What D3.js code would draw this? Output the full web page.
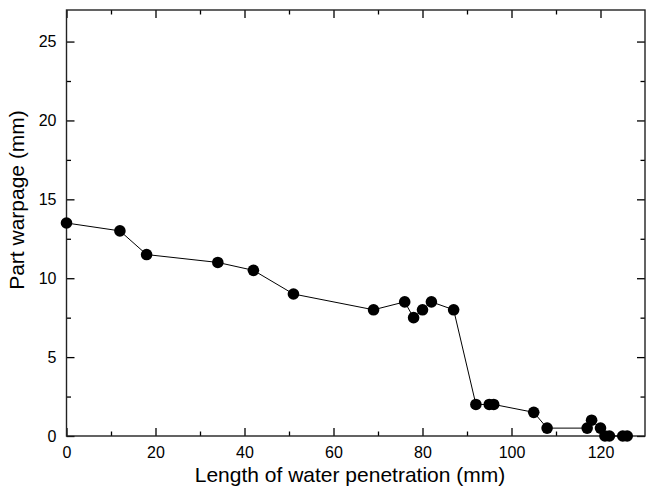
<!DOCTYPE html>
<html>
<head>
<meta charset="utf-8">
<script src="https://cdn.jsdelivr.net/npm/d3@7"></script>
<style>
  html, body { margin: 0; padding: 0; background: #fff; }
  svg { display: block; }
  text { font-family: "Liberation Sans", Arial, Helvetica, sans-serif; fill: #000; }
</style>
</head>
<body>
<svg id="chart" width="646" height="493"></svg>
<script>
// Data
const penetration = [0, 12, 18, 34, 42, 51, 69, 76, 78, 80, 82, 87, 92, 95, 96, 105, 108, 117, 118, 120, 121, 122, 125, 126];
const warpage     = [13.5, 13, 11.5, 11, 10.5, 9, 8, 8.5, 7.5, 8, 8.5, 8, 2, 2, 2, 1.5, 0.5, 0.5, 1, 0.5, 0, 0, 0, 0];
const xTicks = [0, 20, 40, 60, 80, 100, 120];
const xMinorTicks = [10, 30, 50, 70, 90, 110];
const yTicks = [0, 5, 10, 15, 20, 25];
const yMinorTicks = [2.5, 7.5, 12.5, 17.5, 22.5];
const xLabel = "Length of water penetration (mm)";
const yLabel = "Part warpage (mm)";

const W = 646, H = 493;
const m = { left: 66.5, right: 1, top: 10, bottom: 57 };
const svg = d3.select("#chart");
const iw = W - m.left - m.right, ih = H - m.top - m.bottom;

const x = d3.scaleLinear().domain([0, 130]).range([m.left, m.left + iw]);
const y = d3.scaleLinear().domain([0, 27]).range([m.top + ih, m.top]);

const tickFont = 16;
const majorLen = 8, minorLen = 4.5;
const tickStyle = sel => sel.selectAll(".tick line").attr("stroke", "#000").attr("stroke-width", 1.3);

function addTicks(axisFn, pos, vals, len, labels, padding) {
  const ax = axisFn.tickValues(vals).tickSizeInner(-len).tickSizeOuter(0);
  if (labels) ax.tickPadding(padding).tickFormat(d3.format("d")); else ax.tickFormat("");
  const g = svg.append("g").attr("transform", pos).call(ax);
  g.select(".domain").remove();
  tickStyle(g);
  g.selectAll(".tick text").attr("font-size", tickFont).attr("font-family", "Liberation Sans, Arial, sans-serif");
  return g;
}

// Bottom / top ticks (inward)
addTicks(d3.axisBottom(x), `translate(0,${y(0)})`, xTicks, majorLen, true, 11);
addTicks(d3.axisBottom(x), `translate(0,${y(0)})`, xMinorTicks, minorLen, false);
addTicks(d3.axisTop(x), `translate(0,${y(27)})`, xTicks, majorLen, false);
addTicks(d3.axisTop(x), `translate(0,${y(27)})`, xMinorTicks, minorLen, false);
// Left / right ticks
addTicks(d3.axisLeft(y), `translate(${x(0)},0)`, yTicks, majorLen, true, 10);
addTicks(d3.axisLeft(y), `translate(${x(0)},0)`, yMinorTicks, minorLen, false);
addTicks(d3.axisRight(y), `translate(${x(130)},0)`, yTicks, majorLen, false);
addTicks(d3.axisRight(y), `translate(${x(130)},0)`, yMinorTicks, minorLen, false);

// Frame
svg.append("rect")
  .attr("x", x(0)).attr("y", y(27))
  .attr("width", x(130) - x(0)).attr("height", y(0) - y(27))
  .attr("fill", "none").attr("stroke", "#222").attr("stroke-width", 1.4);

// Data line and markers
const pts = penetration.map((v, i) => [v, warpage[i]]);
svg.append("path")
  .datum(pts)
  .attr("fill", "none").attr("stroke", "#000").attr("stroke-width", 1)
  .attr("d", d3.line().x(d => x(d[0])).y(d => y(d[1])));
svg.append("g").selectAll("circle").data(pts).join("circle")
  .attr("cx", d => x(d[0])).attr("cy", d => y(d[1])).attr("r", 5.8)
  .attr("fill", "#000");

// Axis titles
const titleSize = 21;
svg.append("text")
  .attr("x", 350).attr("y", 482)
  .attr("text-anchor", "middle").attr("font-size", titleSize)
  .text(xLabel);
svg.append("text")
  .attr("transform", `translate(24,200) rotate(-90)`)
  .attr("text-anchor", "middle").attr("font-size", titleSize)
  .text(yLabel);
</script>
</body>
</html>
